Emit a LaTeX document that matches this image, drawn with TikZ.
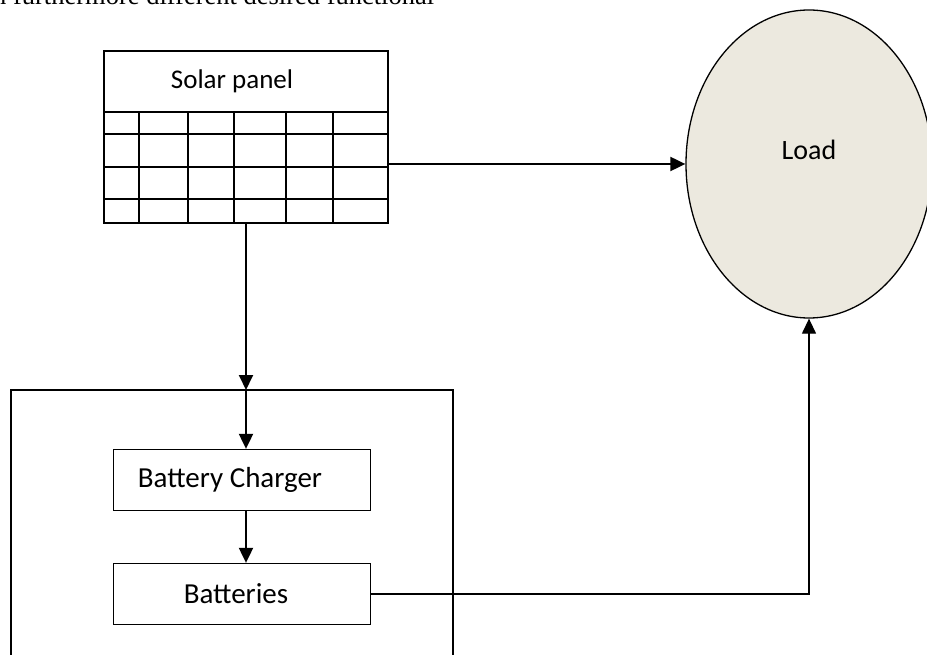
\documentclass[tikz,border=0pt]{standalone}
\usepackage{fontspec}
\setmainfont{Liberation Serif}
\newfontfamily\calibri{Carlito}
\usetikzlibrary{arrows.meta,positioning,calc,shapes.geometric}
\definecolor{loadfill}{RGB}{236,233,223}
\tikzset{
  box/.style={rectangle,draw=black,line width=1.3pt,minimum width=257pt,
              minimum height=61pt,inner sep=0pt},
  lbl/.style={font=\calibri\fontsize{27}{31}\selectfont},
  boxlbl/.style={font=\calibri\fontsize{29}{33}\selectfont},
  arr/.style={-{Triangle[length=15pt,width=14pt]},line width=2pt},
  arrthin/.style={-{Triangle[length=15pt,width=14pt]},line width=1.3pt},
}
\begin{document}
\begin{tikzpicture}[x=1pt,y=-1pt]
    \useasboundingbox (0,0) rectangle (927,655);
    % cut-off line of the page text
    \node[anchor=base west,inner sep=0pt,font=\fontsize{26.5}{30}\selectfont] (pagetext) at (-7,5)
      {n furthermore different desired functional};
    % solar panel with its cells
    \node[box,minimum width=284pt,minimum height=172pt] (panel) at (246,137) {};
    \node[lbl] (paneltext) at (232,81) {Solar panel};
    \draw[line width=1.3pt] (104,112) -- (388,112);
    \foreach \y in {134,167,199}
      \draw[line width=1.3pt] (104,\y) -- (388,\y);
    \foreach \x in {139,188,234,286,333}
      \draw[line width=1.3pt] (\x,112) -- (\x,223);
    % load
    \node[ellipse,draw=black,line width=1.3pt,fill=loadfill,
          minimum width=246pt,minimum height=308pt] (load) at (809,164) {};
    \node[lbl,font=\calibri\fontsize{28}{32}\selectfont] (loadtext) at ([yshift=14pt]load.center) {Load};
    % charging unit, open at the bottom
    \coordinate (unittop) at (246,390);
    \draw[line width=1.3pt] (11,660) |- (453,390) -- (453,660);
    \node[box,boxlbl] (charger) at (242,480) {\hspace*{-24pt}Battery Charger};
    \node[box,boxlbl] (batt) at (242,594) {\hspace*{-12pt}Batteries};
    % connections
    \draw[arr] (load.west -| panel.east) -- (load.west);
    \draw[arr] (panel.south) -- (unittop);
    \draw[arr] (unittop) -- (charger.north -| unittop);
    \draw[arr] (charger.south -| unittop) -- (batt.north -| unittop);
    \draw[arrthin] (batt.east) -| (load.south);
\end{tikzpicture}
\end{document}
